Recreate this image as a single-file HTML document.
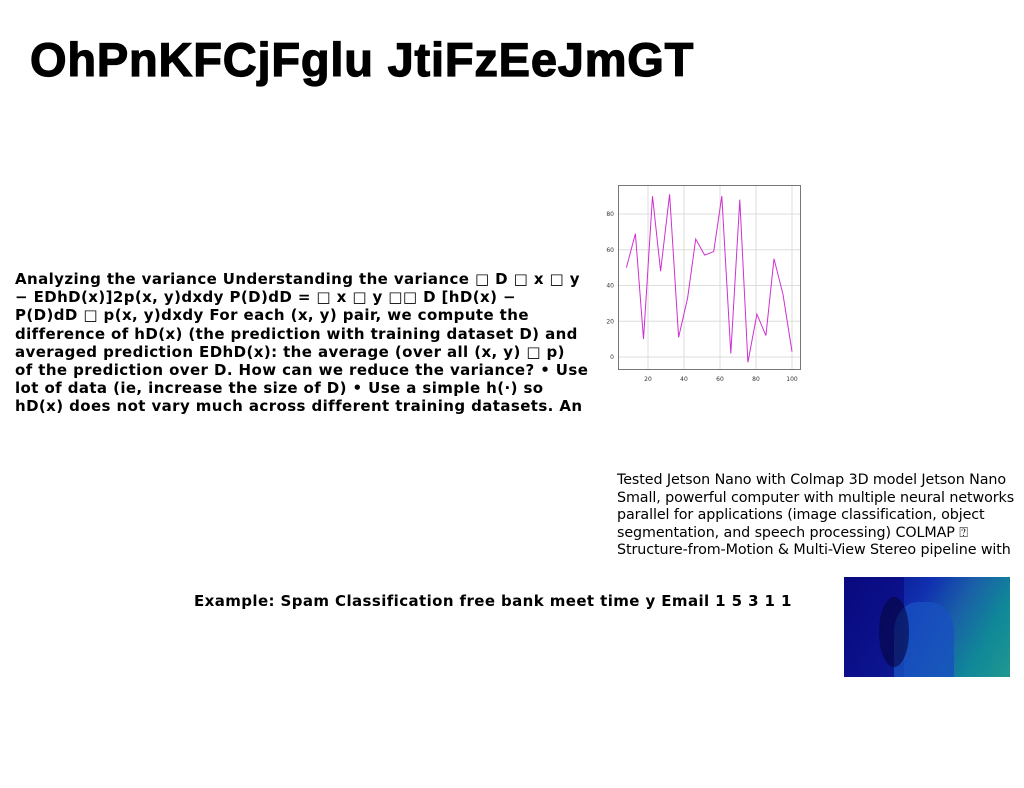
<!DOCTYPE html>
<html><head><meta charset="utf-8"><style>
body{margin:0;width:1024px;height:788px;background:#fff;position:relative;overflow:hidden;font-family:"DejaVu Sans","Liberation Sans",sans-serif}
.a{position:absolute}
#title{left:30px;top:32px;font:bold 47px "Liberation Sans",sans-serif;letter-spacing:0.8px;color:#000;-webkit-text-stroke:1.2px #000;white-space:nowrap}
#lt{left:15px;top:270px;font-weight:bold;font-size:15px;line-height:18.2px;letter-spacing:0.4px;color:#000;white-space:nowrap}
#rt{left:617px;top:472px;font-size:14.3px;line-height:17.6px;letter-spacing:-0.1px;color:#000;white-space:nowrap}
#ex{left:194px;top:592px;font-weight:bold;font-size:15px;letter-spacing:0.4px;color:#000;white-space:nowrap}
#img{left:844px;top:577px;width:166px;height:100px;background:linear-gradient(120deg,#0a0a7a 0%,#1030b0 40%,#1a60a8 60%,#108898 80%,#209890 100%)}
</style></head><body>
<div class="a" id="title">OhPnKFCjFglu JtiFzEeJmGT</div>
<div class="a" id="lt">Analyzing the variance Understanding the variance □ D □ x □ y<br>− EDhD(x)]2p(x, y)dxdy P(D)dD = □ x □ y □□ D [hD(x) −<br>P(D)dD □ p(x, y)dxdy For each (x, y) pair, we compute the<br>difference of hD(x) (the prediction with training dataset D) and<br>averaged prediction EDhD(x): the average (over all (x, y) □ p)<br>of the prediction over D. How can we reduce the variance? • Use<br>lot of data (ie, increase the size of D) • Use a simple h(·) so<br>hD(x) does not vary much across different training datasets. An</div>
<svg class="a" style="left:0;top:0" width="1024" height="788" id="chart"></svg>
<div class="a" id="rt">Tested Jetson Nano with Colmap 3D model Jetson Nano<br>Small, powerful computer with multiple neural networks<br>parallel for applications (image classification, object<br>segmentation, and speech processing) COLMAP ⍰<br>Structure-from-Motion &amp; Multi-View Stereo pipeline with</div>
<div class="a" id="ex">Example: Spam Classification free bank meet time y Email 1 5 3 1 1</div>
<div class="a" id="img">
<div style="position:absolute;left:0;top:0;width:60px;height:100px;background:#0a0880;opacity:.7"></div>
<div style="position:absolute;left:50px;top:25px;width:60px;height:75px;border-radius:40% 40% 0 0;background:#1850c0;opacity:.8"></div>
<div style="position:absolute;left:35px;top:20px;width:30px;height:70px;border-radius:50%;background:#050540;opacity:.6"></div>
</div>
<script>
const xs=[8,13,17.5,22.5,27,32,37,42,46.5,51.5,56.5,61,66,71,75.5,80.5,85.5,90,95,100];
const ys=[50,69,10,90,48,91,11,33,66,57,59,90,2,88,-3,24,12,55,35,3];
const xTicks=[20,40,60,80,100];
const yTicks=[0,20,40,60,80];
const svg=document.getElementById('chart');
const NS='http://www.w3.org/2000/svg';
const X=v=>648+(v-20)*1.8;
const Y=v=>357-v*1.7875;
function mk(t,a){const e=document.createElementNS(NS,t);for(const k in a)e.setAttribute(k,a[k]);svg.appendChild(e);return e;}
const fr=mk('rect',{x:618.5,y:185.5,width:182,height:184,fill:'#fff',stroke:'#777','stroke-width':1});


xTicks.forEach(t=>{
 const g=mk('line',{x1:X(t),x2:X(t),y1:186,y2:369,stroke:'#ddd','stroke-width':1});
 
 
 const l=mk('text',{x:X(t),y:381,'font-size':6,'text-anchor':'middle',fill:'#333'});l.textContent=t;
 
 
});
yTicks.forEach(t=>{
 const g=mk('line',{x1:619,x2:800,y1:Y(t),y2:Y(t),stroke:'#ddd','stroke-width':1});
 
 
 const l=mk('text',{x:614,y:Y(t)+2,'font-size':6,'text-anchor':'end',fill:'#333'});l.textContent=t;
 
 
});
const p=mk('polyline',{points:xs.map((x,i)=>X(x)+','+Y(ys[i])).join(' '),fill:'none',stroke:'#d030d0','stroke-width':1});


</script>
</body></html>
